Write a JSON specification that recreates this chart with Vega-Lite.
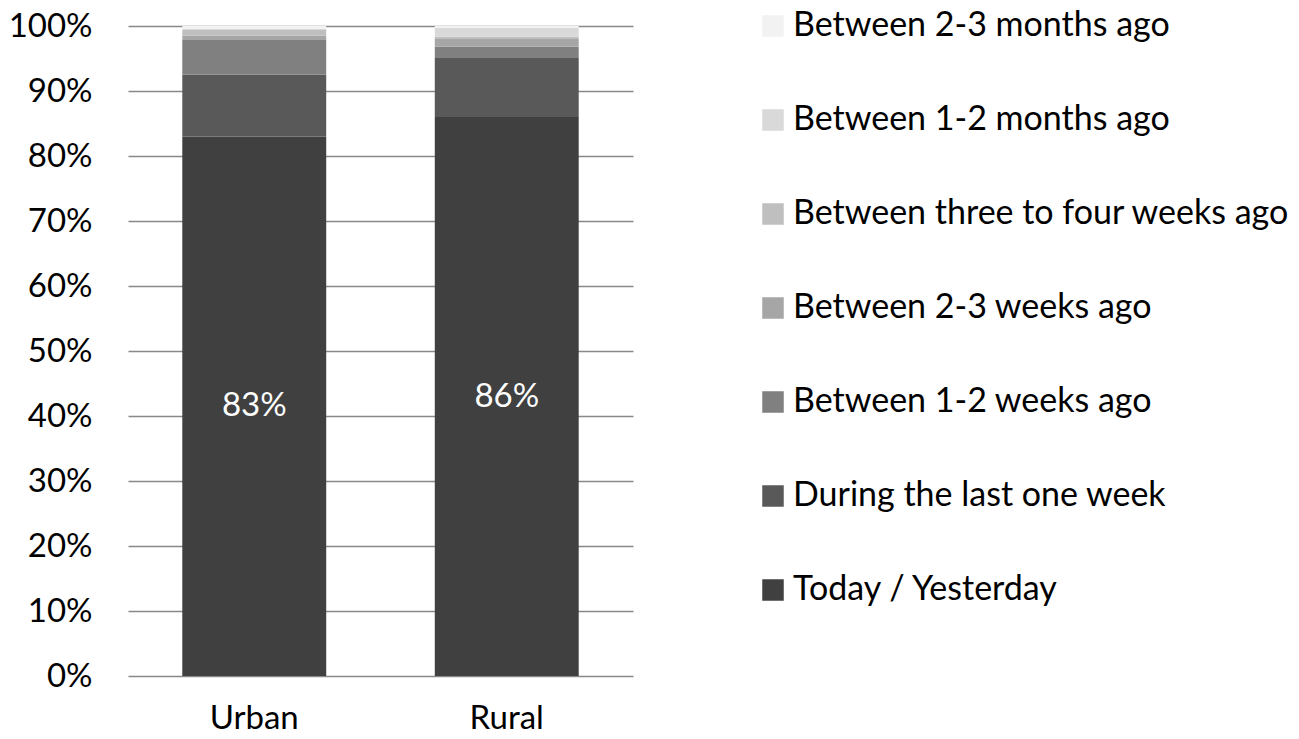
{
  "$schema": "https://vega.github.io/schema/vega-lite/v6.json",
  "width": 505,
  "height": 650,
  "autosize": {"type": "none"},
  "padding": {"left": 128, "top": 26, "right": 666, "bottom": 63},
  "background": "white",
  "config": {
    "view": {"stroke": null},
    "font": "Lato",
    "text": {"font": "Lato"}
  },
  "data": {
    "values": [
      {"area": "Urban", "category": "Today / Yesterday", "rank": 1, "value": 0.83},
      {"area": "Urban", "category": "During the last one week", "rank": 2, "value": 0.095},
      {"area": "Urban", "category": "Between 1-2 weeks ago", "rank": 3, "value": 0.0535},
      {"area": "Urban", "category": "Between  2-3 weeks ago", "rank": 4, "value": 0.0065},
      {"area": "Urban", "category": "Between three to four weeks ago", "rank": 5, "value": 0.009},
      {"area": "Urban", "category": "Between 1-2 months ago", "rank": 6, "value": 0.0015},
      {"area": "Urban", "category": "Between  2-3 months ago", "rank": 7, "value": 0.0045},
      {"area": "Rural", "category": "Today / Yesterday", "rank": 1, "value": 0.86},
      {"area": "Rural", "category": "During the last one week", "rank": 2, "value": 0.092},
      {"area": "Rural", "category": "Between 1-2 weeks ago", "rank": 3, "value": 0.016},
      {"area": "Rural", "category": "Between  2-3 weeks ago", "rank": 4, "value": 0.012},
      {"area": "Rural", "category": "Between three to four weeks ago", "rank": 5, "value": 0.0035},
      {"area": "Rural", "category": "Between 1-2 months ago", "rank": 6, "value": 0.0135},
      {"area": "Rural", "category": "Between  2-3 months ago", "rank": 7, "value": 0.003}
    ]
  },
  "encoding": {
    "x": {
      "field": "area",
      "type": "nominal",
      "sort": ["Urban", "Rural"],
      "scale": {"paddingInner": 0.43, "paddingOuter": 0.215},
      "axis": {
        "title": null,
        "labelAngle": 0,
        "labelFont": "Lato",
        "labelFontSize": 33,
        "labelColor": "#000000",
        "labelPadding": 26,
        "domain": false,
        "ticks": false,
        "grid": false
      }
    }
  },
  "layer": [
    {
      "mark": {"type": "bar"},
      "encoding": {
        "y": {
          "field": "value",
          "type": "quantitative",
          "stack": "zero",
          "scale": {"domain": [0, 1], "nice": false},
          "axis": {
            "title": null,
            "format": ".0%",
            "values": [0, 0.1, 0.2, 0.3, 0.4, 0.5, 0.6, 0.7, 0.8, 0.9, 1],
            "labelFont": "Lato",
            "labelFontSize": 33,
            "labelColor": "#000000",
            "labelPadding": 36,
            "domain": false,
            "ticks": false,
            "grid": true,
            "gridColor": "#898989",
            "gridWidth": 1.3,
            "zindex": 0
          }
        },
        "order": {"field": "rank", "type": "quantitative", "sort": "ascending"},
        "color": {
          "field": "category",
          "type": "nominal",
          "scale": {
            "domain": [
              "Between  2-3 months ago",
              "Between 1-2 months ago",
              "Between three to four weeks ago",
              "Between  2-3 weeks ago",
              "Between 1-2 weeks ago",
              "During the last one week",
              "Today / Yesterday"
            ],
            "range": ["#f2f2f2", "#d9d9d9", "#bfbfbf", "#a6a6a6", "#808080", "#595959", "#404040"]
          },
          "legend": {
            "title": null,
            "orient": "none",
            "legendX": 628,
            "legendY": -17,
            "symbolType": "square",
            "symbolSize": 462,
            "symbolStrokeWidth": 0,
            "symbolOpacity": 1,
            "labelFont": "Lato",
            "labelFontSize": 34,
            "labelColor": "#000000",
            "labelOffset": 3,
            "labelLimit": 0,
            "rowPadding": 60,
            "padding": 0
          }
        }
      }
    },
    {
      "transform": [{"filter": "datum.category === 'Today / Yesterday'"}],
      "mark": {"type": "text", "color": "#ffffff", "font": "Lato", "fontSize": 33, "baseline": "middle", "align": "center"},
      "encoding": {
        "y": {
          "field": "value",
          "type": "quantitative",
          "stack": null,
          "scale": {"domain": [0, 2], "nice": false},
          "axis": null
        },
        "text": {"field": "value", "type": "quantitative", "format": ".0%"}
      }
    }
  ],
  "resolve": {"scale": {"y": "independent"}}
}
